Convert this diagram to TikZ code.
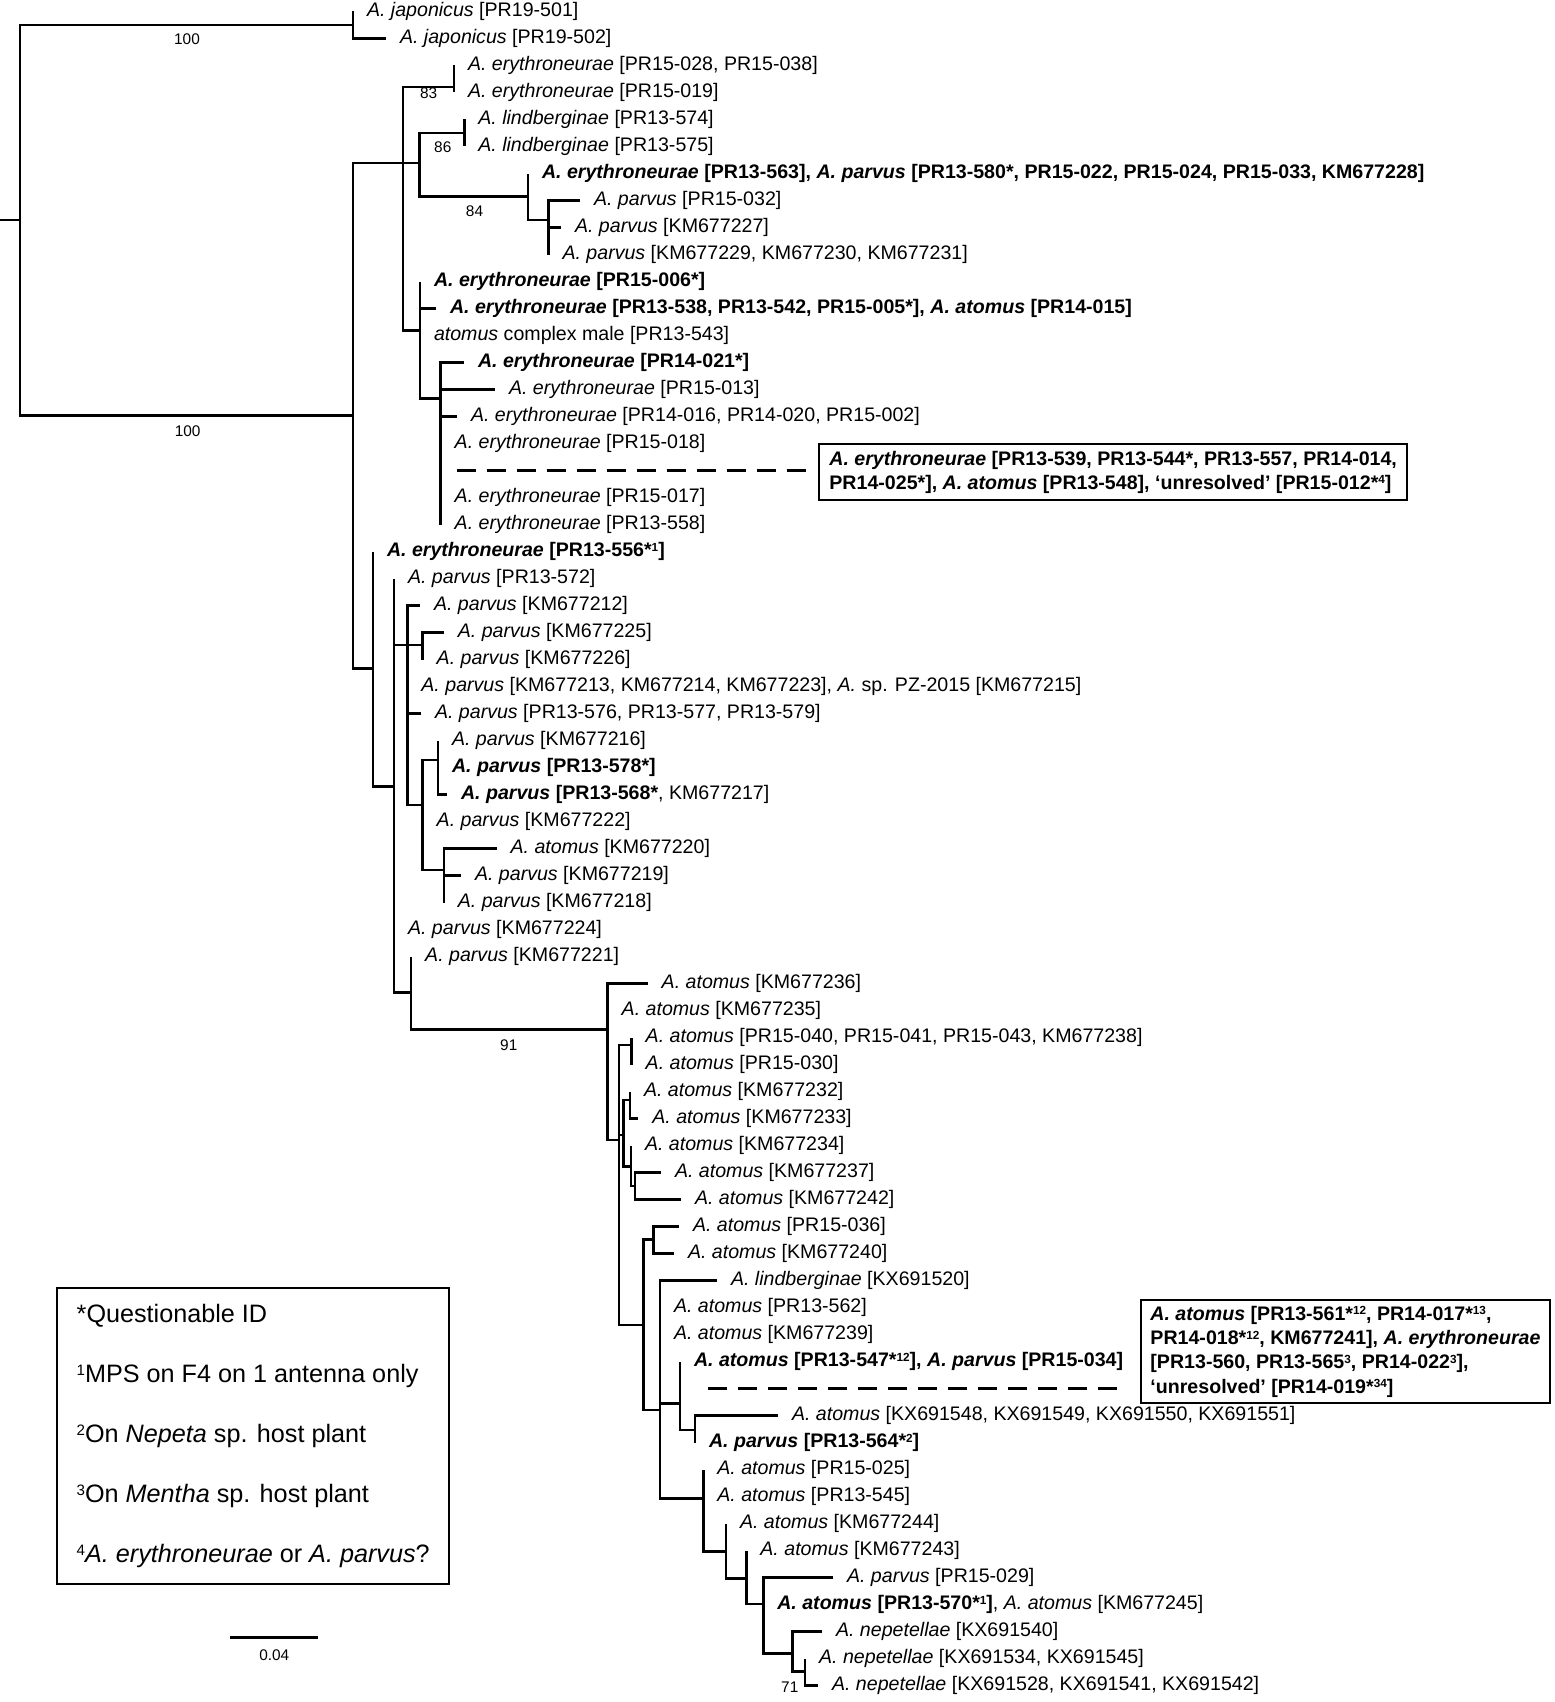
\documentclass[tikz,border=0pt]{standalone}
\usepackage{fontspec}
\usepackage{graphicx}
\setmainfont{Liberation Sans}
\tikzset{
  br/.style={line width=1.25pt},
  lab/.style={anchor=west, inner xsep=6.8pt, inner ysep=0pt, font=\fontsize{9.8}{11.8}\selectfont, text height=7.2pt, text depth=1.8pt},
  bs/.style={font=\fontsize{7.7}{9}\selectfont, inner sep=0pt},
  boxnode/.style={draw, line width=1.2pt, font=\fontsize{9.8}{12.15}\selectfont\bfseries, align=left, anchor=north west},
  dashline/.style={line width=1.25pt, dash pattern=on 9.5pt off 5.5pt}
}
\newcommand{\sups}[1]{\raisebox{0.28em}{\scalebox{0.6}{#1}}}
\newcommand{\inode}[4]{\coordinate (#2) at (#3,#4); \draw[br] (#1) |- (#2);}
\newcommand{\leafat}[5]{\node[lab] (#2) at (#3,{11.5+27*(#4-1)}) {#5}; \draw[br] (#1) |- (#2.west);}
\begin{document}
\begin{tikzpicture}[x=0.5pt,y=-0.5pt]
\useasboundingbox (0,0) rectangle (1554,1702);
% root
\coordinate (r0) at (0,220);
\coordinate (rt) at (20,220);
\draw[br] (r0) -- (rt);
\inode{rt}{nJ}{353}{25}
\inode{rt}{nB}{353}{415.6}
\leafat{nJ}{t1}{353}{1}{\textit{A. japonicus} [PR19-501]}
\leafat{nJ}{t2}{386}{2}{\textit{A. japonicus} [PR19-502]}
% upper clade
\inode{nB}{nD}{403}{163}
\inode{nB}{nG}{373}{668.3}
\inode{nD}{n83}{454}{87}
\inode{nD}{nDa}{419.4}{163}
\inode{nD}{nE}{420}{330.7}
\leafat{n83}{t3}{454}{3}{\textit{A. erythroneurae} [PR15-028, PR15-038]}
\leafat{n83}{t4}{454}{4}{\textit{A. erythroneurae} [PR15-019]}
\inode{nDa}{n86}{464.3}{133}
\inode{nDa}{n84}{528}{196.7}
\leafat{n86}{t5}{464.3}{5}{\textit{A. lindberginae} [PR13-574]}
\leafat{n86}{t6}{464.3}{6}{\textit{A. lindberginae} [PR13-575]}
\leafat{n84}{t7}{528}{7}{{\bfseries \textit{A. erythroneurae} [PR13-563], \textit{A. parvus} [PR13-580*, PR15-022, PR15-024, PR15-033, KM677228]}}
\inode{n84}{nP8}{548.5}{220}
\leafat{nP8}{t8}{580}{8}{\textit{A. parvus} [PR15-032]}
\leafat{nP8}{t9}{561}{9}{\textit{A. parvus} [KM677227]}
\leafat{nP8}{t10}{548.5}{10}{\textit{A. parvus} [KM677229, KM677230, KM677231]}
\leafat{nE}{t11}{420}{11}{{\bfseries \textit{A. erythroneurae} [PR15-006*]}}
\leafat{nE}{t12}{436}{12}{{\bfseries \textit{A. erythroneurae} [PR13-538, PR13-542, PR15-005*], \textit{A. atomus} [PR14-015]}}
\leafat{nE}{t13}{420}{13}{\textit{atomus} complex male [PR13-543]}
\inode{nE}{nF}{440.7}{398.3}
\leafat{nF}{t14}{464}{14}{{\bfseries \textit{A. erythroneurae} [PR14-021*]}}
\leafat{nF}{t15}{495}{15}{\textit{A. erythroneurae} [PR15-013]}
\leafat{nF}{t16}{457}{16}{\textit{A. erythroneurae} [PR14-016, PR14-020, PR15-002]}
\leafat{nF}{t17}{440.7}{17}{\textit{A. erythroneurae} [PR15-018]}
\coordinate (d1) at (440.7,470.5);
\leafat{nF}{t19}{440.7}{19}{\textit{A. erythroneurae} [PR15-017]}
\leafat{nF}{t20}{440.7}{20}{\textit{A. erythroneurae} [PR13-558]}
\node[boxnode, minimum width=294pt, minimum height=28pt] (box1) at (818,443)
  {\textit{A. erythroneurae} [PR13-539, PR13-544*, PR13-557, PR14-014,\\
   PR14-025*], \textit{A. atomus} [PR13-548], ‘unresolved’ [PR15-012*\sups{4}]};
\draw[dashline, shorten <=8pt, shorten >=4.3pt] (d1) -- (d1 -| box1.west);
% lower clade
\leafat{nG}{t21}{373}{21}{{\bfseries \textit{A. erythroneurae} [PR13-556*\sups{1}]}}
\inode{nG}{nH}{394}{786.7}
\leafat{nH}{t22}{394}{22}{\textit{A. parvus} [PR13-572]}
\inode{nH}{nK}{407.4}{645}
\leafat{nH}{t35}{394}{35}{\textit{A. parvus} [KM677224]}
\inode{nH}{nI}{411.2}{992.7}
\leafat{nK}{t23}{420}{23}{\textit{A. parvus} [KM677212]}
\inode{nK}{nM}{422.7}{645}
\leafat{nK}{t26}{407.4}{26}{\textit{A. parvus} [KM677213, KM677214, KM677223], \textit{A.} sp. PZ-2015 [KM677215]}
\leafat{nK}{t27}{421}{27}{\textit{A. parvus} [PR13-576, PR13-577, PR13-579]}
\inode{nK}{nO}{422.7}{805}
\leafat{nM}{t24}{443.8}{24}{\textit{A. parvus} [KM677225]}
\leafat{nM}{t25}{422.7}{25}{\textit{A. parvus} [KM677226]}
\inode{nO}{nN}{438}{760}
\leafat{nO}{t31}{422.7}{31}{\textit{A. parvus} [KM677222]}
\inode{nO}{nP}{443.8}{870}
\leafat{nN}{t28}{438}{28}{\textit{A. parvus} [KM677216]}
\leafat{nN}{t29}{438}{29}{{\bfseries \textit{A. parvus} [PR13-578*]}}
\leafat{nN}{t30}{447}{30}{{\bfseries \textit{A. parvus} [PR13-568*}, KM677217]}
\leafat{nP}{t32}{496.6}{32}{\textit{A. atomus} [KM677220]}
\leafat{nP}{t33}{461}{33}{\textit{A. parvus} [KM677219]}
\leafat{nP}{t34}{443.8}{34}{\textit{A. parvus} [KM677218]}
\leafat{nI}{t36}{411.2}{36}{\textit{A. parvus} [KM677221]}
\inode{nI}{nL}{607.7}{1029.3}
\leafat{nL}{t37}{647.7}{37}{\textit{A. atomus} [KM677236]}
\leafat{nL}{t38}{607.7}{38}{\textit{A. atomus} [KM677235]}
\inode{nL}{nU}{619}{1140}
\inode{nU}{nQ}{631.7}{1045}
\inode{nU}{nS}{623.3}{1135}
\inode{nU}{nVV}{643.3}{1325}
\leafat{nQ}{t39}{631.7}{39}{\textit{A. atomus} [PR15-040, PR15-041, PR15-043, KM677238]}
\leafat{nQ}{t40}{631.7}{40}{\textit{A. atomus} [PR15-030]}
\inode{nS}{nR}{630}{1100}
\inode{nS}{nZ}{631}{1166.7}
\leafat{nR}{t41}{630}{41}{\textit{A. atomus} [KM677232]}
\leafat{nR}{t42}{638.3}{42}{\textit{A. atomus} [KM677233]}
\leafat{nZ}{t43}{631}{43}{\textit{A. atomus} [KM677234]}
\inode{nZ}{nT}{635}{1186}
\leafat{nT}{t44}{661}{44}{\textit{A. atomus} [KM677237]}
\leafat{nT}{t45}{681}{45}{\textit{A. atomus} [KM677242]}
\inode{nVV}{nV}{653.3}{1239.3}
\inode{nVV}{nX}{660}{1410}
\leafat{nV}{t46}{679}{46}{\textit{A. atomus} [PR15-036]}
\leafat{nV}{t47}{674}{47}{\textit{A. atomus} [KM677240]}
\leafat{nX}{t48}{717}{48}{\textit{A. lindberginae} [KX691520]}
\leafat{nX}{t49}{660}{49}{\textit{A. atomus} [PR13-562]}
\leafat{nX}{t50}{660}{50}{\textit{A. atomus} [KM677239]}
\inode{nX}{nW}{680}{1403.3}
\inode{nX}{nAA}{703.3}{1498.3}
\leafat{nW}{t51}{680}{51}{{\bfseries \textit{A. atomus} [PR13-547*\sups{12}], \textit{A. parvus} [PR15-034]}}
\coordinate (d2) at (680,1388.5);
\inode{nW}{nY}{695}{1430}
\leafat{nY}{t53}{778}{53}{\textit{A. atomus} [KX691548, KX691549, KX691550, KX691551]}
\leafat{nY}{t54}{695}{54}{{\bfseries \textit{A. parvus} [PR13-564*\sups{2}]}}
\leafat{nAA}{t55}{703.3}{55}{\textit{A. atomus} [PR15-025]}
\leafat{nAA}{t56}{703.3}{56}{\textit{A. atomus} [PR13-545]}
\inode{nAA}{nAB}{726}{1551.7}
\leafat{nAB}{t57}{726}{57}{\textit{A. atomus} [KM677244]}
\inode{nAB}{nAC}{746.4}{1578.3}
\leafat{nAC}{t58}{746.4}{58}{\textit{A. atomus} [KM677243]}
\inode{nAC}{nAD}{763.3}{1604}
\leafat{nAD}{t59}{833}{59}{\textit{A. parvus} [PR15-029]}
\leafat{nAD}{t60}{763.3}{60}{{\bfseries \textit{A. atomus} [PR13-570*\sups{1}]}, \textit{A. atomus} [KM677245]}
\inode{nAD}{nAE}{792.3}{1653.3}
\leafat{nAE}{t61}{822}{61}{\textit{A. nepetellae} [KX691540]}
\inode{nAE}{nAF}{805.1}{1671.7}
\leafat{nAF}{t62}{805.1}{62}{\textit{A. nepetellae} [KX691534, KX691545]}
\leafat{nAF}{t63}{818}{63}{\textit{A. nepetellae} [KX691528, KX691541, KX691542]}
\node[boxnode, minimum width=204.75pt, minimum height=51.5pt, inner ysep=2pt] (box2) at (1139.5,1299)
  {\textit{A. atomus} [PR13-561*\sups{12}, PR14-017*\sups{13},\\
   PR14-018*\sups{12}, KM677241], \textit{A. erythroneurae}\\
   {}[PR13-560, PR13-565\sups{3}, PR14-022\sups{3}],\\
   ‘unresolved’ [PR14-019*\sups{34}]};
\draw[dashline, shorten <=14pt, shorten >=6.5pt] (d2) -- (d2 -| box2.west);
% bootstrap values
\node[bs] (b1) at (187,39) {100};
\node[bs] (b2) at (187.7,431) {100};
\node[bs] (b3) at (428.7,93) {83};
\node[bs] (b4) at (442.8,146.7) {86};
\node[bs] (b5) at (474.5,210.7) {84};
\node[bs] (b6) at (508.8,1045) {91};
\node[bs] (b7) at (789.8,1686.7) {71};
% legend
\node[draw, line width=1.2pt, minimum width=196pt, minimum height=148pt, align=left,
      font=\fontsize{12.6}{30}\selectfont, anchor=north west] (legend) at (56,1287)
  {*Questionable ID\\
   \sups{1}MPS on F4 on 1 antenna only\\
   \sups{2}On \textit{Nepeta} sp. host plant\\
   \sups{3}On \textit{Mentha} sp. host plant\\
   \sups{4}\textit{A. erythroneurae} or \textit{A. parvus}?};
% scale bar
\coordinate (sb1) at (230,1637.3);
\coordinate (sb2) at (318.3,1637.3);
\draw[br] (sb1) -- (sb2);
\node[bs] (sbl) at (274.3,1655) {0.04};
\end{tikzpicture}
\end{document}
